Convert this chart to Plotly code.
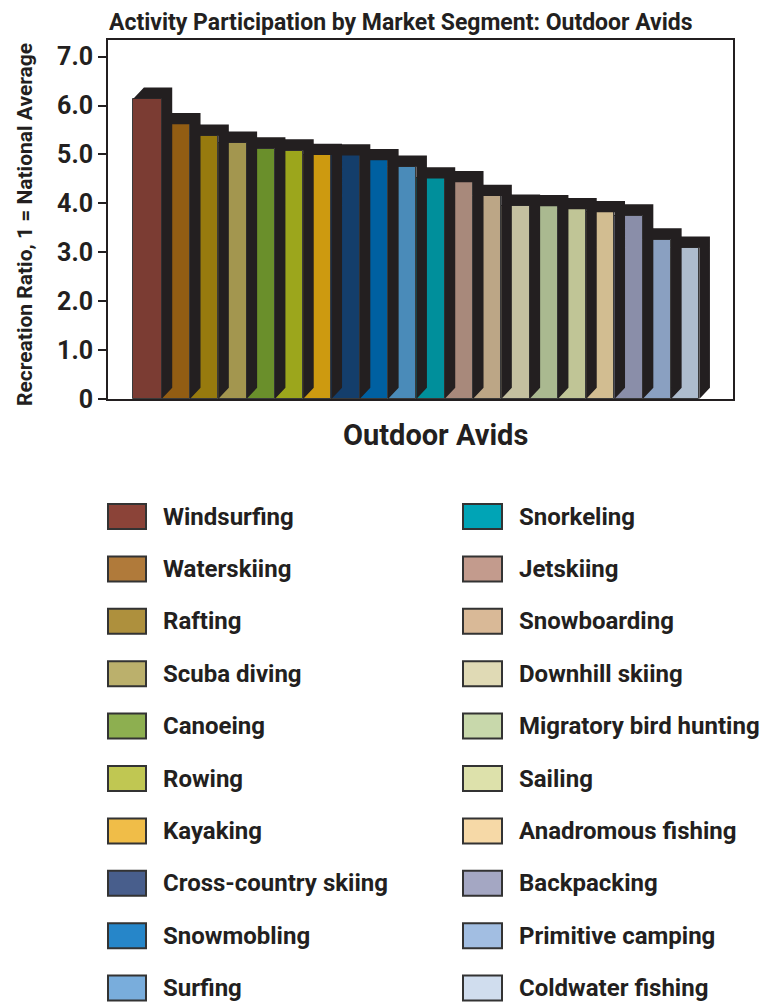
import plotly.graph_objects as go

categories = ["Windsurfing", "Waterskiing", "Rafting", "Scuba diving", "Canoeing",
              "Rowing", "Kayaking", "Cross-country skiing", "Snowmobling", "Surfing",
              "Snorkeling", "Jetskiing", "Snowboarding", "Downhill skiing",
              "Migratory bird hunting", "Sailing", "Anadromous fishing", "Backpacking",
              "Primitive camping", "Coldwater fishing"]
values = [6.14, 5.62, 5.38, 5.24, 5.12, 5.08, 4.99, 4.98, 4.88, 4.75,
          4.51, 4.43, 4.15, 3.95, 3.94, 3.88, 3.82, 3.75, 3.26, 3.09]
bar_colors = ["#7b3c33", "#925d13", "#977a0e", "#a3964f", "#6a8f2b", "#9ca61c",
              "#cd9a10", "#143e6b", "#0060a1", "#4a8bb9", "#008f9b", "#a8897b",
              "#bca686", "#c4c0a0", "#aab990", "#c0c596", "#d2bd91", "#8a8ea9",
              "#8aa0c1", "#aebccd"]
legend_colors = ["#8b4338", "#b07a3a", "#ae903d", "#bbb06c", "#8daf50", "#c0c752",
                 "#f0bd48", "#485e8c", "#2686c9", "#79addc", "#00a4b6", "#c39b8d",
                 "#d9b997", "#e0dab5", "#c8d8ab", "#dde1ab", "#f6d9a7", "#a4a7c3",
                 "#a2bee2", "#d0ddee"]
y_ticks = [0, 1, 2, 3, 4, 5, 6, 7]
y_ticktext = ["0", "1.0", "2.0", "3.0", "4.0", "5.0", "6.0", "7.0"]

title = "Activity Participation by Market Segment: Outdoor Avids"
y_title = "Recreation Ratio, 1 = National Average"
x_title = "Outdoor Avids"

FONT = "Roboto, Liberation Sans, sans-serif"
INK = "#231f20"

OFF = 8  # browser body margin
W, H = 769 - OFF, 1006 - OFF
L, R, T, B = 108 - OFF, 733 - OFF, 40 - OFF, 399 - OFF
DX, DY = 0.375, 0.23  # 3D depth in data units

n = len(values)
xs = list(range(n))

# shadow (top + right faces) polygons, derived from data
sx, sy = [], []
for x, v in zip(xs, values):
    x0, x1 = x - 0.5, x + 0.5
    sx += [x0, x0 + DX, x1 + DX, x1 + DX, x1, x1, x0, None]
    sy += [v, v + DY, v + DY, DY, 0, v, v, None]

fig = go.Figure()
fig.add_trace(go.Scatter(x=sx, y=sy, mode="lines", fill="toself",
                         fillcolor=INK, line=dict(width=0, color=INK),
                         hoverinfo="skip", showlegend=False))
fig.add_trace(go.Bar(x=xs, y=values, width=1, marker=dict(color=bar_colors,
                     line=dict(color="#3a3a3a", width=1)),
                     hovertext=categories, showlegend=False))


def px(x):  # reference-page pixel -> paper
    return (x - OFF - L) / (R - L)


def py(y):
    return (B - (y - OFF)) / (B - T)


shapes = []
annotations = []
# legend
for i, (name, col) in enumerate(zip(categories, legend_colors)):
    colm, row = divmod(i, 10)
    cy = 516.5 + 52.4 * row
    sx0, sx1 = (108, 146) if colm == 0 else (463, 502)
    tx = 161 if colm == 0 else 517
    shapes.append(dict(type="rect", xref="paper", yref="paper",
                       x0=px(sx0), x1=px(sx1), y0=py(cy + 12.5), y1=py(cy - 12.5),
                       fillcolor=col, line=dict(color="#333333", width=2)))
    annotations.append(dict(text=name, xref="paper", yref="paper", x=px(tx), y=py(cy),
                            xanchor="left", yanchor="middle", showarrow=False,
                            font=dict(family=FONT, size=24, color=INK, weight="bold")))

annotations.append(dict(text=title, xref="paper", yref="paper", x=px(107), y=py(22),
                        xanchor="left", yanchor="middle", showarrow=False,
                        font=dict(family=FONT, size=23, color=INK, weight="bold")))
annotations.append(dict(text=y_title, xref="paper", yref="paper", x=px(25), y=py(225),
                        xanchor="center", yanchor="middle", textangle=-90, showarrow=False,
                        font=dict(family=FONT, size=21, color=INK, weight="bold")))
annotations.append(dict(text=x_title, xref="paper", yref="paper", x=px(435), y=py(435),
                        xanchor="center", yanchor="middle", showarrow=False,
                        font=dict(family=FONT, size=29, color=INK, weight="bold")))

fig.update_layout(
    width=W, height=H,
    margin=dict(l=L, r=W - R, t=T, b=H - B),
    paper_bgcolor="white", plot_bgcolor="white",
    bargap=0, showlegend=False, hovermode=False,
    shapes=shapes, annotations=annotations,
    xaxis=dict(range=[-1.394, 20.69], showticklabels=False, ticks="",
               showgrid=False, zeroline=False, showline=True, linecolor=INK,
               linewidth=2, mirror=True),
    yaxis=dict(range=[0, 7.34], tickvals=y_ticks, ticktext=y_ticktext,
               ticks="outside", ticklen=8, tickwidth=2, tickcolor=INK,
               tickfont=dict(family=FONT, size=25, color=INK, weight="bold"),
               showgrid=False, zeroline=False, showline=True, linecolor=INK,
               linewidth=2, mirror=True),
)

fig.write_html("out.html")
